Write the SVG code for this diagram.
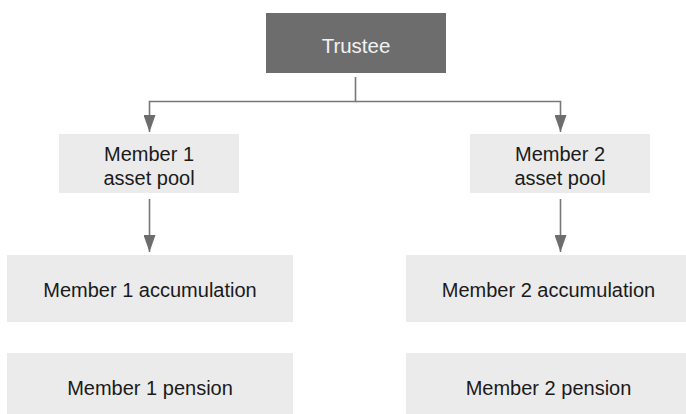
<svg xmlns="http://www.w3.org/2000/svg" width="686" height="414" viewBox="0 0 686 414">
  <defs>
    <style>
      .box { fill: #ebebeb; }
      .dark { fill: #6d6d6d; }
      .lbl { font-family: "Liberation Sans", Arial, sans-serif; font-size: 20px; fill: #1a1a1a; text-anchor: middle; }
      .lbl-w { font-family: "Liberation Sans", Arial, sans-serif; font-size: 20.5px; fill: #f2f2f2; text-anchor: middle; }
      .conn { fill: none; stroke: #777777; stroke-width: 1.6; marker-end: url(#arrow); }
    </style>
    <marker id="arrow" viewBox="0 0 17 12" refX="17" refY="6" markerWidth="17" markerHeight="12" markerUnits="userSpaceOnUse" orient="auto">
      <path d="M0,0 L17,6 L0,12 Z" fill="#6d6d6d"/>
    </marker>
  </defs>
  <rect width="686" height="414" fill="#ffffff"/>

  <g id="connectors">
    <path class="conn" d="M355.5,77 V101.5 H149.5 V132"/>
    <path class="conn" d="M355.5,101.5 H560.5 V132"/>
    <path class="conn" d="M149.5,199 V252"/>
    <path class="conn" d="M560.5,199 V252"/>
  </g>

  <g id="trustee">
    <rect class="dark" x="266" y="13" width="180" height="60"/>
    <text class="lbl-w" x="356" y="53">Trustee</text>
  </g>

  <g id="member1-pool">
    <rect class="box" x="59" y="134" width="180" height="59"/>
    <text class="lbl" x="149" y="161">Member 1</text>
    <text class="lbl" x="149" y="185">asset pool</text>
  </g>

  <g id="member2-pool">
    <rect class="box" x="470" y="134" width="180" height="59"/>
    <text class="lbl" x="560" y="161">Member 2</text>
    <text class="lbl" x="560" y="185">asset pool</text>
  </g>

  <g id="member1-accumulation">
    <rect class="box" x="7" y="255" width="286" height="67"/>
    <text class="lbl" x="150" y="297">Member 1 accumulation</text>
  </g>

  <g id="member2-accumulation">
    <rect class="box" x="406" y="255" width="286" height="67"/>
    <text class="lbl" x="548.5" y="297">Member 2 accumulation</text>
  </g>

  <g id="member1-pension">
    <rect class="box" x="7" y="353" width="286" height="67"/>
    <text class="lbl" x="150" y="395">Member 1 pension</text>
  </g>

  <g id="member2-pension">
    <rect class="box" x="406" y="353" width="286" height="67"/>
    <text class="lbl" x="548.5" y="395">Member 2 pension</text>
  </g>
</svg>
